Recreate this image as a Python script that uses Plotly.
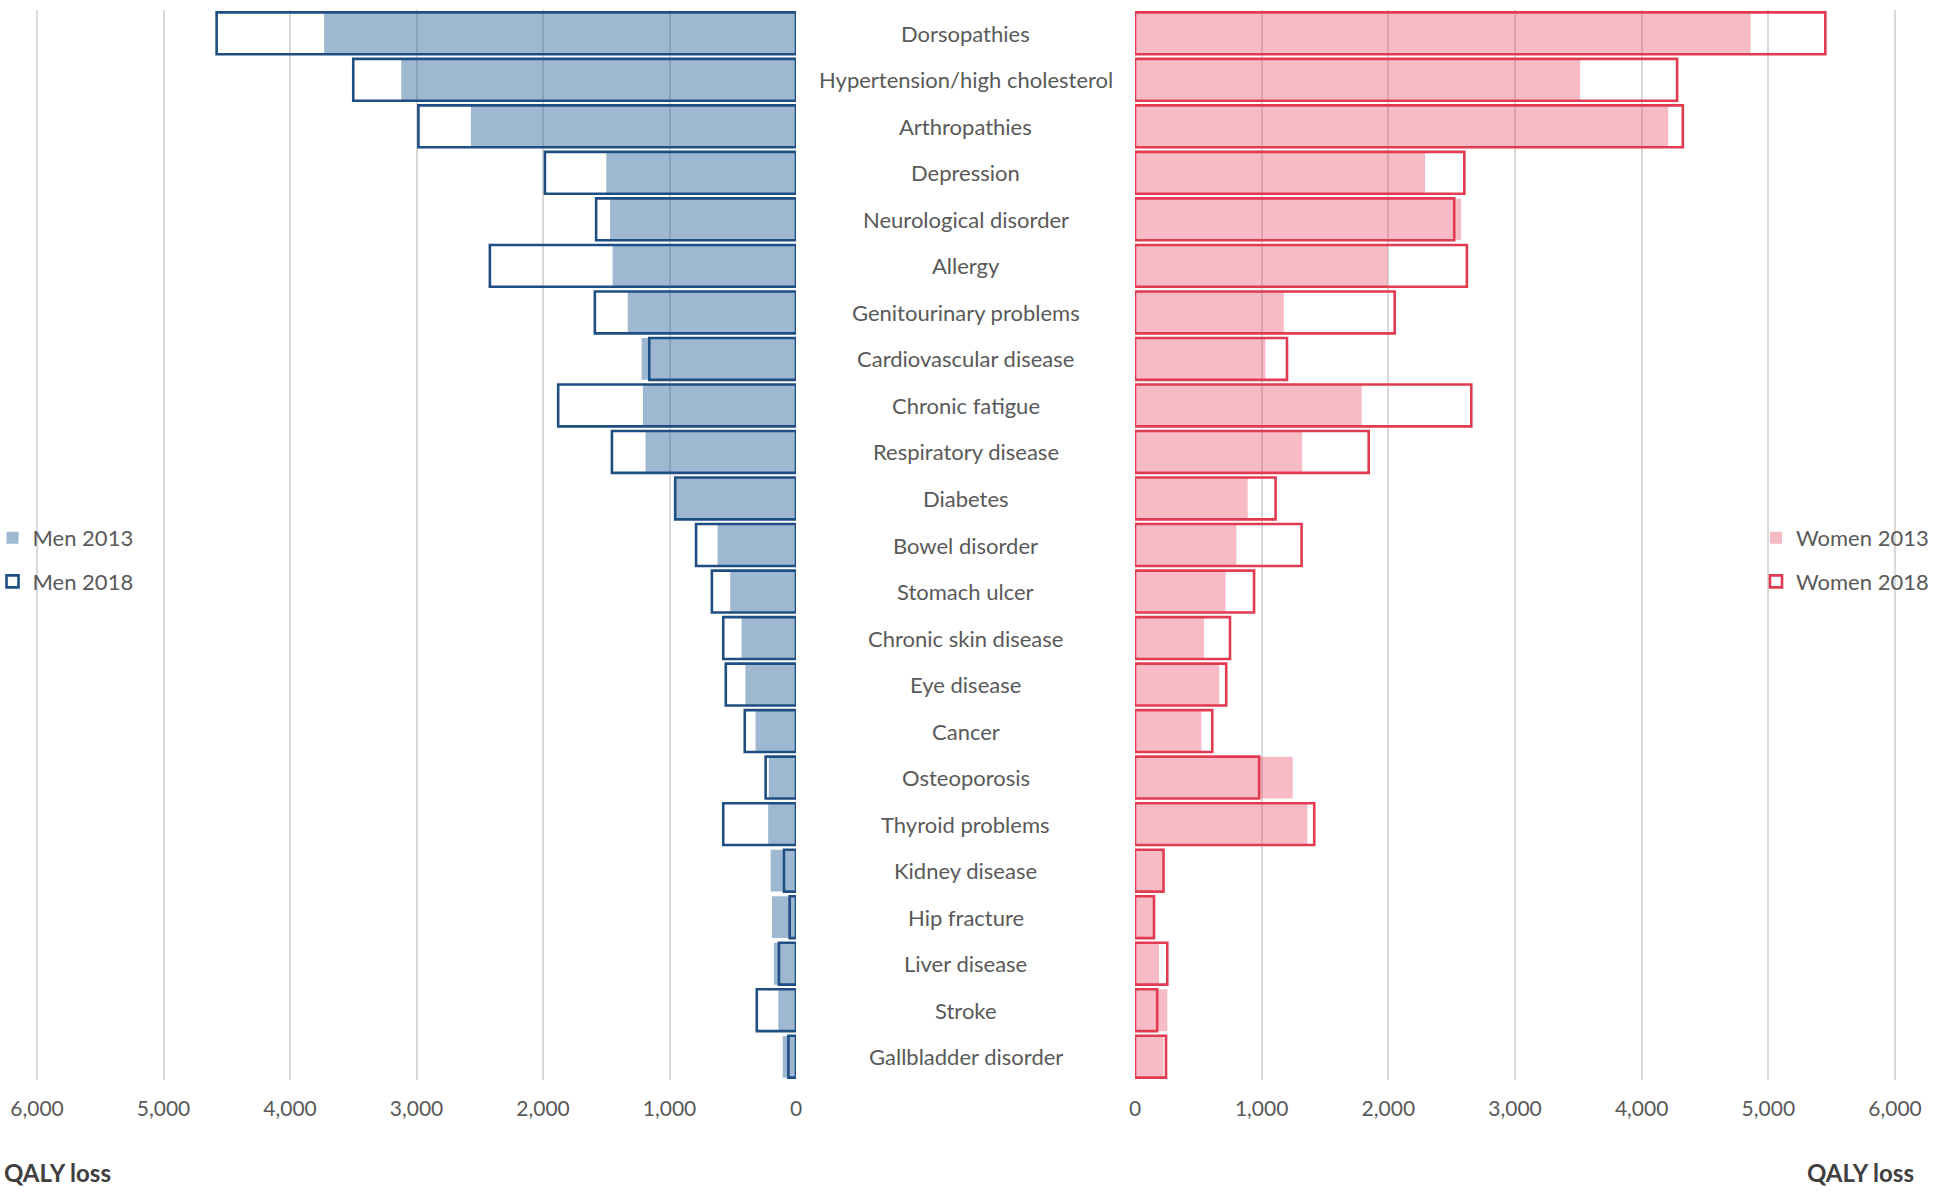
import plotly.graph_objects as go

categories = ["Dorsopathies", "Hypertension/high cholesterol", "Arthropathies", "Depression",
              "Neurological disorder", "Allergy", "Genitourinary problems", "Cardiovascular disease",
              "Chronic fatigue", "Respiratory disease", "Diabetes", "Bowel disorder", "Stomach ulcer",
              "Chronic skin disease", "Eye disease", "Cancer", "Osteoporosis", "Thyroid problems",
              "Kidney disease", "Hip fracture", "Liver disease", "Stroke", "Gallbladder disorder"]

men_2013 = [3730, 3120, 2570, 1500, 1470, 1450, 1330, 1220, 1210, 1190, 950, 620, 520, 430, 400, 320, 215, 220, 200, 190, 175, 140, 105]
men_2018 = [4580, 3500, 2985, 1985, 1580, 2420, 1590, 1160, 1880, 1455, 955, 790, 665, 575, 555, 405, 240, 575, 95, 50, 135, 310, 60]
women_2013 = [4860, 3515, 4210, 2290, 2575, 1995, 1175, 1030, 1790, 1320, 890, 800, 715, 545, 665, 525, 1245, 1360, 215, 145, 190, 255, 225]
women_2018 = [5450, 4280, 4325, 2600, 2520, 2620, 2050, 1200, 2655, 1845, 1110, 1315, 940, 750, 720, 610, 980, 1415, 225, 150, 255, 175, 245]

tick_vals = [0, 1000, 2000, 3000, 4000, 5000, 6000]

MEN_FILL = "rgba(30,90,150,0.43)"
MEN_LINE = "#1F4E82"
WOMEN_FILL = "rgba(228,60,85,0.35)"
WOMEN_LINE = "#E23A50"
FONT = "Lato"
GRAY = "#595959"

W, H = 1944, 1201
PX_PER_UNIT = (796 - 37) / 6000
PAD = 12  # data units of padding so the outer 6,000 gridline is drawn
fig = go.Figure()

fig.add_trace(go.Bar(y=categories, x=men_2013, orientation="h", name="Men 2013",
                     xaxis="x", yaxis="y", width=0.9,
                     marker=dict(color=MEN_FILL, line=dict(width=0)),
                     legend="legend", legendgroup="m13"))
fig.add_trace(go.Bar(y=categories, x=men_2018, orientation="h", name="Men 2018",
                     xaxis="x", yaxis="y", width=0.9,
                     marker=dict(color="rgba(0,0,0,0)", line=dict(color=MEN_LINE, width=2.6)),
                     legend="legend", legendgroup="m18"))
fig.add_trace(go.Bar(y=categories, x=women_2013, orientation="h", name="Women 2013",
                     xaxis="x2", yaxis="y", width=0.9,
                     marker=dict(color=WOMEN_FILL, line=dict(width=0)),
                     legend="legend2", legendgroup="w13"))
fig.add_trace(go.Bar(y=categories, x=women_2018, orientation="h", name="Women 2018",
                     xaxis="x2", yaxis="y", width=0.9,
                     marker=dict(color="rgba(0,0,0,0)", line=dict(color=WOMEN_LINE, width=2.6)),
                     legend="legend2", legendgroup="w18"))

axis_common = dict(tickvals=tick_vals, tickformat=",d", showgrid=True, gridcolor="#D9D9D9",
                   gridwidth=1.5, zeroline=False, showline=False, ticks="outside", ticklen=10,
                   tickcolor="rgba(0,0,0,0)", tickfont=dict(family=FONT, size=21, color=GRAY),
                   fixedrange=True, automargin=False)

y_top = 1 - 10 / H
y_bot = 1 - 1080 / H
pad_px = PAD * PX_PER_UNIT

fig.update_layout(
    width=W, height=H,
    margin=dict(l=0, r=0, t=0, b=0, autoexpand=False),
    paper_bgcolor="white", plot_bgcolor="white",
    barmode="overlay",
    font=dict(family=FONT, color=GRAY),
    xaxis=dict(domain=[(37 - pad_px) / W, 796 / W], range=[6000 + PAD, 0], anchor="y", **axis_common),
    xaxis2=dict(domain=[1135 / W, (1895 + pad_px) / W], range=[0, 6000 + PAD], anchor="y", **axis_common),
    yaxis=dict(domain=[y_bot, y_top], categoryorder="array", categoryarray=categories,
               autorange="reversed", showticklabels=False, showgrid=False, zeroline=False,
               anchor="x", automargin=False),
    legend=dict(x=-7.5 / W, xanchor="left", y=1 - 560 / H, yanchor="middle",
                font=dict(family=FONT, size=22, color=GRAY), traceorder="grouped",
                tracegroupgap=12, itemwidth=30, bgcolor="rgba(0,0,0,0)"),
    legend2=dict(x=1 - 10 / W, xanchor="right", y=1 - 560 / H, yanchor="middle",
                 font=dict(family=FONT, size=22, color=GRAY), traceorder="grouped",
                 tracegroupgap=12, itemwidth=30, bgcolor="rgba(0,0,0,0)"),
    showlegend=True,
)

annotations = []
for c in categories:
    annotations.append(dict(x=(796 + 1135) / 2 / W, xref="paper", y=c, yref="y",
                            text=c, showarrow=False, xanchor="center", yanchor="middle",
                            font=dict(family=FONT, size=22, color=GRAY)))
annotations.append(dict(x=2 / W, xref="paper", y=1 - 1172 / H, yref="paper", text="<b>QALY loss</b>",
                        showarrow=False, xanchor="left", yanchor="middle",
                        font=dict(family=FONT, size=24, color="#404040")))
annotations.append(dict(x=1916 / W, xref="paper", y=1 - 1172 / H, yref="paper", text="<b>QALY loss</b>",
                        showarrow=False, xanchor="right", yanchor="middle",
                        font=dict(family=FONT, size=24, color="#404040")))
fig.update_layout(annotations=annotations)

fig.write_html("out.html", config={"displayModeBar": False},
               post_script="document.body.style.margin='0px';document.body.style.overflow='hidden';")
